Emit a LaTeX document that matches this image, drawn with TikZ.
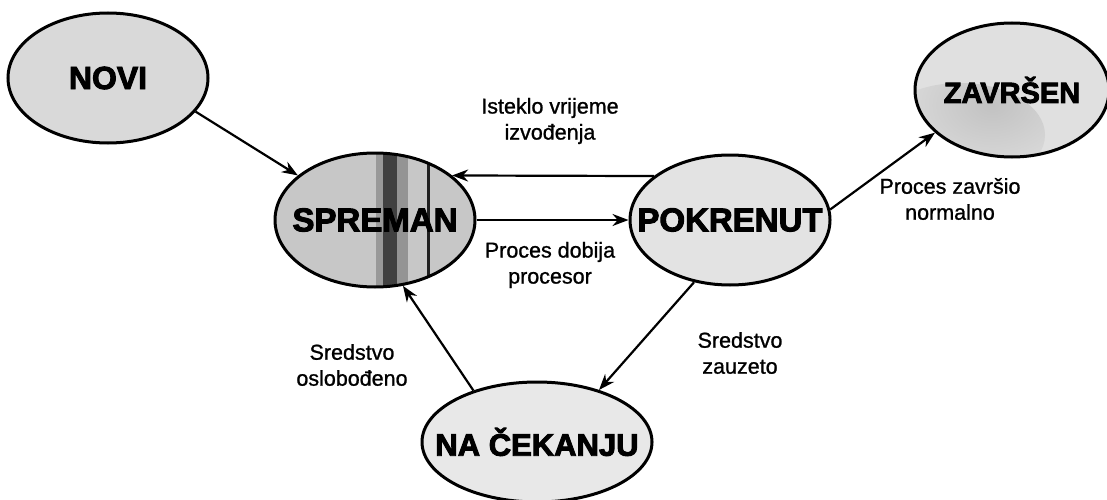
\documentclass[tikz,border=0pt]{standalone}
\usepackage{fontspec}
\setmainfont{Liberation Sans}[FakeBold=1]
\newfontfamily\statefont{Liberation Sans Bold}[FakeBold=3]
\usetikzlibrary{shapes.geometric,arrows.meta}
\begin{document}
\begin{tikzpicture}[x=1pt,y=-1pt,
  state/.style={ellipse, draw=black, line width=3pt, inner sep=0pt},
  sfont/.style={font=\statefont\fontsize{#1}{#1}\selectfont},
  arr/.style={line width=2.2pt, -{Stealth[length=16pt,width=12pt]}},
  lbl/.style={align=center, inner sep=0pt, font=\fontsize{21.5}{26}\selectfont}]
\useasboundingbox (0,0) rectangle (1107,500);
% states
\node[state, fill=black!15, sfont=32, minimum width=200pt, minimum height=130pt] (novi) at (108,78) {\makebox[0pt]{NOVI}};
\node[state, fill=black!22, sfont=33, minimum width=200pt, minimum height=134pt,
  path picture={
    \fill[black!40] ([xshift=1pt]path picture bounding box.north) rectangle ([xshift=8pt]path picture bounding box.south);
    \fill[black!75] ([xshift=8pt]path picture bounding box.north) rectangle ([xshift=22pt]path picture bounding box.south);
    \fill[black!42] ([xshift=22pt]path picture bounding box.north) rectangle ([xshift=33pt]path picture bounding box.south);
    \fill[black!88] ([xshift=52pt]path picture bounding box.north) rectangle ([xshift=55pt]path picture bounding box.south);
  }] (spreman) at (375,220) {\makebox[0pt]{SPREMAN}};
\node[state, fill=black!11, sfont=33, minimum width=200pt, minimum height=130pt] (pokrenut) at (730,220) {\makebox[0pt]{POKRENUT}};
\node[state, fill=black!12, sfont=29, minimum width=194pt, minimum height=134pt,
  path picture={
    \shade[inner color=black!24, outer color=black!12] ([shift={(45pt,22pt)}]path picture bounding box.south west) ellipse [x radius=85pt, y radius=52pt];
  }] (zavrsen) at (1012,90) {\makebox[0pt]{ZAVRŠEN}};
\node[state, fill=black!9, sfont=31, minimum width=230pt, minimum height=120pt] (cekanje) at (537,442) {\makebox[0pt]{NA ČEKANJU}};
% connectors
\draw[arr] (novi.-21) -- (spreman.150);
\draw[arr] (pokrenut.150) -- (spreman.30);
\draw[arr] (spreman.east) -- (pokrenut.west);
\draw[arr] (pokrenut.6) -- (zavrsen.209);
\draw[arr] (pokrenut.240) -- (cekanje.40);
\draw[arr] (cekanje.141) -- (spreman.293);
% labels
\node[lbl] (l1) at (550,121) {Isteklo vrijeme\\izvođenja};
\node[lbl] (l2) at (550,265) {Proces dobija\\procesor};
\node[lbl] (l3) at (950,199) {Proces završio\\normalno};
\node[lbl] (l4) at (352,365) {Sredstvo\\oslobođeno};
\node[lbl] (l5) at (740,353) {Sredstvo\\zauzeto};
\end{tikzpicture}
\end{document}
